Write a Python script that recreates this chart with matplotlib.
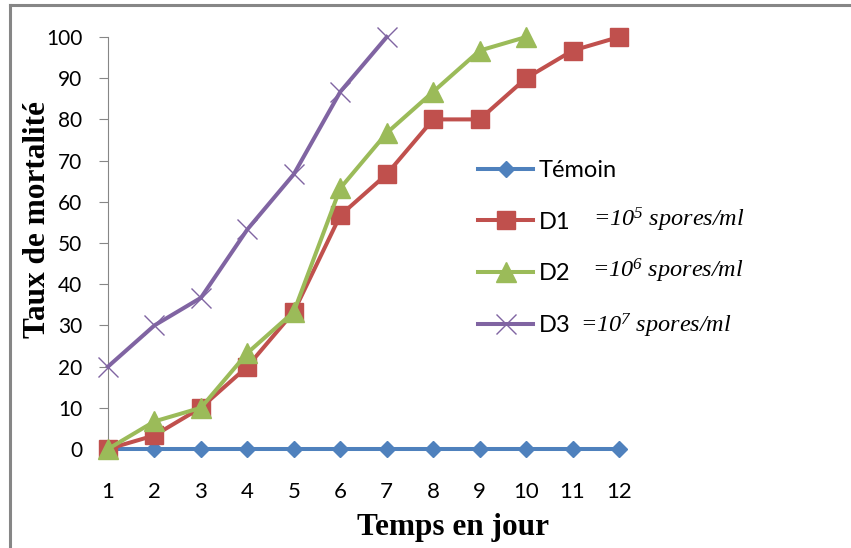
import matplotlib
matplotlib.use("Agg")
import matplotlib.pyplot as plt
from matplotlib.lines import Line2D

# ---- data ----
days = [1, 2, 3, 4, 5, 6, 7, 8, 9, 10, 11, 12]
temoin = [0, 0, 0, 0, 0, 0, 0, 0, 0, 0, 0, 0]
d1 = [0, 3.3, 10, 20, 33.3, 56.7, 66.7, 80, 80, 90, 96.7, 100]
d2_days = [1, 2, 3, 4, 5, 6, 7, 8, 9, 10]
d2 = [0, 6.7, 10, 23.3, 33.3, 63.3, 76.7, 86.7, 96.7, 100]
d3_days = [1, 2, 3, 4, 5, 6, 7]
d3 = [20, 30, 36.7, 53.3, 66.7, 86.7, 100]
series_labels = ["Témoin", "D1", "D2", "D3"]
dose_exponents = ["5", "6", "7"]
y_ticks = list(range(0, 101, 10))
x_label = "Temps en jour"
y_label = "Taux de mortalité"

plt.rcParams['mathtext.fontset'] = 'custom'
plt.rcParams['mathtext.rm'] = 'Liberation Serif:italic'
plt.rcParams['mathtext.it'] = 'Liberation Serif:italic'

W, H = 851, 548
fig = plt.figure(figsize=(W / 100, H / 100), dpi=100)
fig.patch.set_facecolor('white')

def fx(px):
    return px / W

def fy(py):
    return 1 - py / H

ax = fig.add_axes([fx(108), fy(449), fx(619) - fx(108), fy(37) - fy(449)])

c_t, c1, c2, c3 = '#4F81BD', '#C0504D', '#9BBB59', '#8064A2'
lw = 2.9
l0, = ax.plot(days, temoin, color=c_t, lw=lw, marker='D', ms=8.5, mec=c_t, clip_on=False, zorder=3)
l1, = ax.plot(days, d1, color=c1, lw=lw, marker='s', ms=13, mec=c1, clip_on=False, zorder=4)
l2, = ax.plot(d2_days, d2, color=c2, lw=lw, marker='^', ms=14, mec=c2, clip_on=False, zorder=5)
l3, = ax.plot(d3_days, d3, color=c3, lw=lw, marker='x', ms=14, mew=1.0, mec=c3, clip_on=False, zorder=6)

ax.set_xlim(1, 12)
ax.set_ylim(0, 100)
ax.set_yticks(y_ticks)
ax.set_xticks(days)
for s in ['top', 'right']:
    ax.spines[s].set_visible(False)
for s in ['left', 'bottom']:
    ax.spines[s].set_color('#868686')
    ax.spines[s].set_linewidth(0.8)
ax.tick_params(axis='y', direction='out', length=6.5, width=0.8, color='#868686', pad=12,
               labelsize=15)
ax.tick_params(axis='x', length=0, pad=24, labelsize=16)
for lab in ax.get_xticklabels() + ax.get_yticklabels():
    lab.set_fontfamily('Lato')
    lab.set_color('black')

fig.text(fx(38), fy(220), y_label, rotation=90, ha='center', va='center',
         fontfamily='Liberation Serif', fontweight='bold', fontsize=22.5)
fig.text(fx(453), fy(535), x_label, ha='center', va='baseline',
         fontfamily='Liberation Serif', fontweight='bold', fontsize=22.5)

leg = fig.legend([l0, l1, l2, l3], series_labels, loc='upper left',
                 bbox_to_anchor=(fx(478), fy(160)), bbox_transform=fig.transFigure,
                 frameon=False, borderpad=0, borderaxespad=0, handlelength=2.33,
                 handletextpad=0.25, labelspacing=1.3,
                 prop={'family': 'Lato', 'size': 17})

dose_pos = [(593, 220), (592, 271), (580, 326)]
for exp, (px, py) in zip(dose_exponents, dose_pos):
    fig.text(fx(px), fy(py), "=10$^{" + exp + "}$ spores/ml", ha='left', va='center',
             fontfamily='Liberation Serif', style='italic', fontsize=17.5)

# outer frame (top and left edges visible)
fig.add_artist(Line2D([fx(10), 1], [fy(5), fy(5)], color='#868686', lw=2.2,
                      transform=fig.transFigure))
fig.add_artist(Line2D([fx(10), fx(10)], [0, fy(5)], color='#868686', lw=2.2,
                      transform=fig.transFigure))

fig.savefig('out.png', dpi=100)
